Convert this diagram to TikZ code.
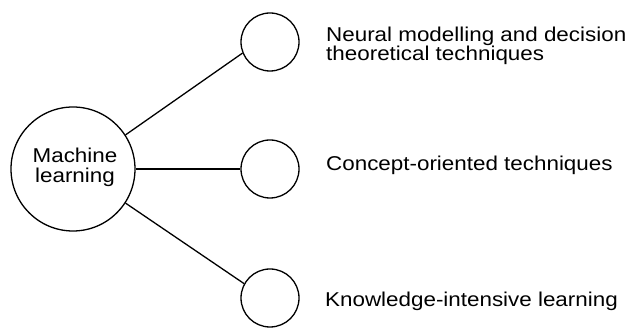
\documentclass[tikz,border=0pt]{standalone}
\usepackage{fontspec}
\setmainfont[FakeStretch=1.12]{Liberation Sans}
\begin{document}
\begin{tikzpicture}[x=1pt,y=1pt,
  hub/.style={circle,draw,line width=1.3pt,minimum size=124pt,inner sep=0pt},
  hubtext/.style={align=center,inner sep=0pt,font=\fontsize{20}{20.5}\selectfont},
  leaf/.style={circle,draw,line width=1.3pt,minimum size=58pt,inner sep=0pt},
  link/.style={line width=1.3pt},
  caption/.style={anchor=base west,inner sep=0pt,font=\fontsize{20}{19}\selectfont}]
  \useasboundingbox (0,0) rectangle (635,328);
  % central circle and its two-line label
  \node[hub] (ml) at (73,159) {};
  \node[hubtext,anchor=base] (mlt) at (75,145) {Machine\\learning};
  % the three branch circles
  \node[leaf] (t1) at (270,286) {};
  \node[leaf] (t2) at (270,159) {};
  \node[leaf] (t3) at (270,30) {};
  \draw[link] (ml.33) -- (t1.202);
  \draw[link] (ml) -- (t2);
  \draw[link] (ml.-33) -- (t3.151);
  % captions to the right of the branches
  \node[caption] (c1) at (326,286) {Neural modelling and decision};
  \node[caption] (c1b) at (326,267) {theoretical techniques};
  \node[caption] (c2) at (326,157) {Concept-oriented techniques};
  \node[caption] (c3) at (325,21) {Knowledge-intensive learning};
\end{tikzpicture}
\end{document}
